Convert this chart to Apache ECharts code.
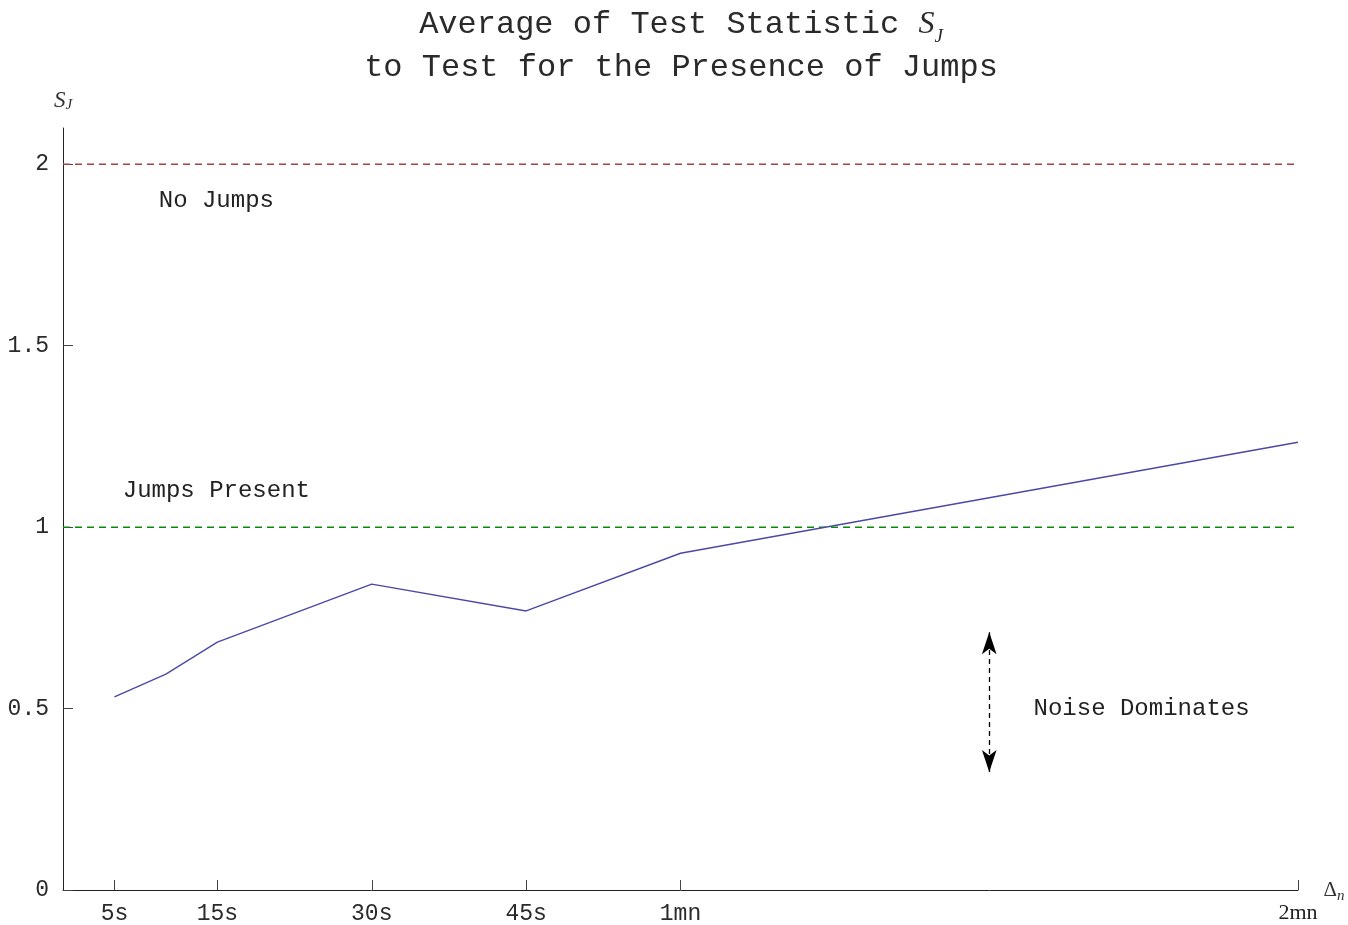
<!DOCTYPE html>
<html>
<head>
<meta charset="utf-8">
<script src="https://cdn.jsdelivr.net/npm/echarts@6/dist/echarts.min.js"></script>
<style>html,body{margin:0;padding:0;background:#fff;}#c{width:1348px;height:925px;}</style>
</head>
<body>
<div id="c"></div>
<script>
// x values in seconds
const xSeconds = [5, 10, 15, 30, 45, 60, 120];
const sjValues = [0.532, 0.595, 0.683, 0.843, 0.769, 0.928, 1.234];
const xTickValues = [5, 15, 30, 45, 60, 120];
const xTickLabels = ['5s', '15s', '30s', '45s', '1mn', '2mn'];
const yTickValues = [0, 0.5, 1, 1.5, 2];
const noJumpsLevel = 2;
const jumpsLevel = 1;
const xRange = [0, 120];
const arrowX = 90;
const arrowYRange = [0.325, 0.71];
const annotations = [
  { text: 'No Jumps', x: 14.9, y: 1.90 },
  { text: 'Jumps Present', x: 14.9, y: 1.10 },
  { text: 'Noise Dominates', x: 104.8, y: 0.50 }
];

const mono = '"Liberation Mono", "DejaVu Sans Mono", monospace';
const serif = '"Liberation Serif", "DejaVu Serif", serif';

const chart = echarts.init(document.getElementById('c'));
chart.setOption({
  animation: false,
  backgroundColor: '#fff',
  graphic: [{
    type: 'text',
    x: 681, y: 46,
    silent: true,
    style: {
      text: 'Average of Test Statistic {i|S}{sub|J}\nto Test for the Presence of Jumps',
      align: 'center', verticalAlign: 'middle',
      fontFamily: mono, fontSize: 32, fill: '#2a2a2a', lineHeight: 43,
      rich: {
        i: { fontFamily: serif, fontStyle: 'italic', fontSize: 32, fill: '#2a2a2a', lineHeight: 43 },
        sub: { fontFamily: serif, fontStyle: 'italic', fontSize: 19, fill: '#2a2a2a', verticalAlign: 'bottom', padding: [14, 0, 0, 0] }
      }
    }
  }],
  grid: { left: 63, right: 50, top: 128, bottom: 35, containLabel: false },
  xAxis: {
    type: 'value', min: xRange[0], max: xRange[1],
    name: '{d|Δ}{n|n}', nameLocation: 'end', nameGap: 20,
    nameTextStyle: {
      verticalAlign: 'middle',
      rich: {
        d: { fontFamily: serif, fontSize: 21, color: '#333' },
        n: { fontFamily: serif, fontStyle: 'italic', fontSize: 15, color: '#333', verticalAlign: 'bottom', padding: [12, 0, 0, 0] }
      }
    },
    axisLine: { show: true, onZero: false, lineStyle: { color: '#222', width: 1 } },
    axisTick: { show: true, inside: true, length: 10, customValues: xTickValues, lineStyle: { color: '#444' } },
    axisLabel: {
      customValues: xTickValues, margin: 12,
      fontFamily: mono, fontSize: 23, color: '#2a2a2a',
      formatter: function (v) {
        const i = xTickValues.indexOf(v);
        if (i < 0) return '';
        if (v === 120) return '{s|' + xTickLabels[i] + '}';
        return xTickLabels[i];
      },
      rich: { s: { fontFamily: serif, fontSize: 22, color: '#222' } }
    },
    splitLine: { show: false }
  },
  yAxis: {
    type: 'value', min: 0, max: 2.1,
    name: '{i|S}{sub|J}', nameLocation: 'end', nameGap: 15,
    nameTextStyle: {
      align: 'center', padding: [0, 0, 0, 0],
      rich: {
        i: { fontFamily: serif, fontStyle: 'italic', fontSize: 23, color: '#333' },
        sub: { fontFamily: serif, fontStyle: 'italic', fontSize: 15, color: '#333', verticalAlign: 'bottom', padding: [10, 0, 0, 0] }
      }
    },
    axisLine: { show: true, onZero: false, lineStyle: { color: '#222', width: 1 } },
    axisTick: { show: true, inside: true, length: 10, customValues: yTickValues, lineStyle: { color: '#444' } },
    axisLabel: { customValues: yTickValues, margin: 14, fontFamily: mono, fontSize: 23, color: '#2a2a2a' },
    splitLine: { show: false }
  },
  series: [
    {
      type: 'line', name: 'No Jumps',
      data: xRange.map(x => [x, noJumpsLevel]),
      symbol: 'none', silent: true,
      lineStyle: { color: '#a04545', width: 1.5, type: [7, 5] },
      z: 3
    },
    {
      type: 'line', name: 'Jumps Present',
      data: xRange.map(x => [x, jumpsLevel]),
      symbol: 'none', silent: true,
      lineStyle: { color: '#0a8a0a', width: 1.5, type: [7, 5] },
      z: 3
    },
    {
      type: 'line', name: 'S_J',
      data: xSeconds.map((x, i) => [x, sjValues[i]]),
      symbol: 'none',
      lineStyle: { color: '#4a4aa6', width: 1.4 },
      z: 4,
      markLine: {
        silent: true,
        symbol: ['arrow', 'arrow'],
        symbolSize: [11, 22],
        label: { show: false },
        lineStyle: { color: '#000', width: 1.3, type: [5, 4] },
        data: [[{ coord: [arrowX, arrowYRange[0]] }, { coord: [arrowX, arrowYRange[1]] }]]
      }
    },
    {
      type: 'scatter', name: 'annotations',
      data: annotations.map(a => ({ value: [a.x, a.y], name: a.text })),
      symbolSize: 0, silent: true,
      itemStyle: { color: '#222' },
      label: {
        show: true, position: 'inside',
        formatter: p => p.name,
        fontFamily: mono, fontSize: 24, color: '#222', fontWeight: 'normal',
        textBorderWidth: 0, textBorderColor: 'transparent', opacity: 1
      }
    }
  ]
});
</script>
</body>
</html>
